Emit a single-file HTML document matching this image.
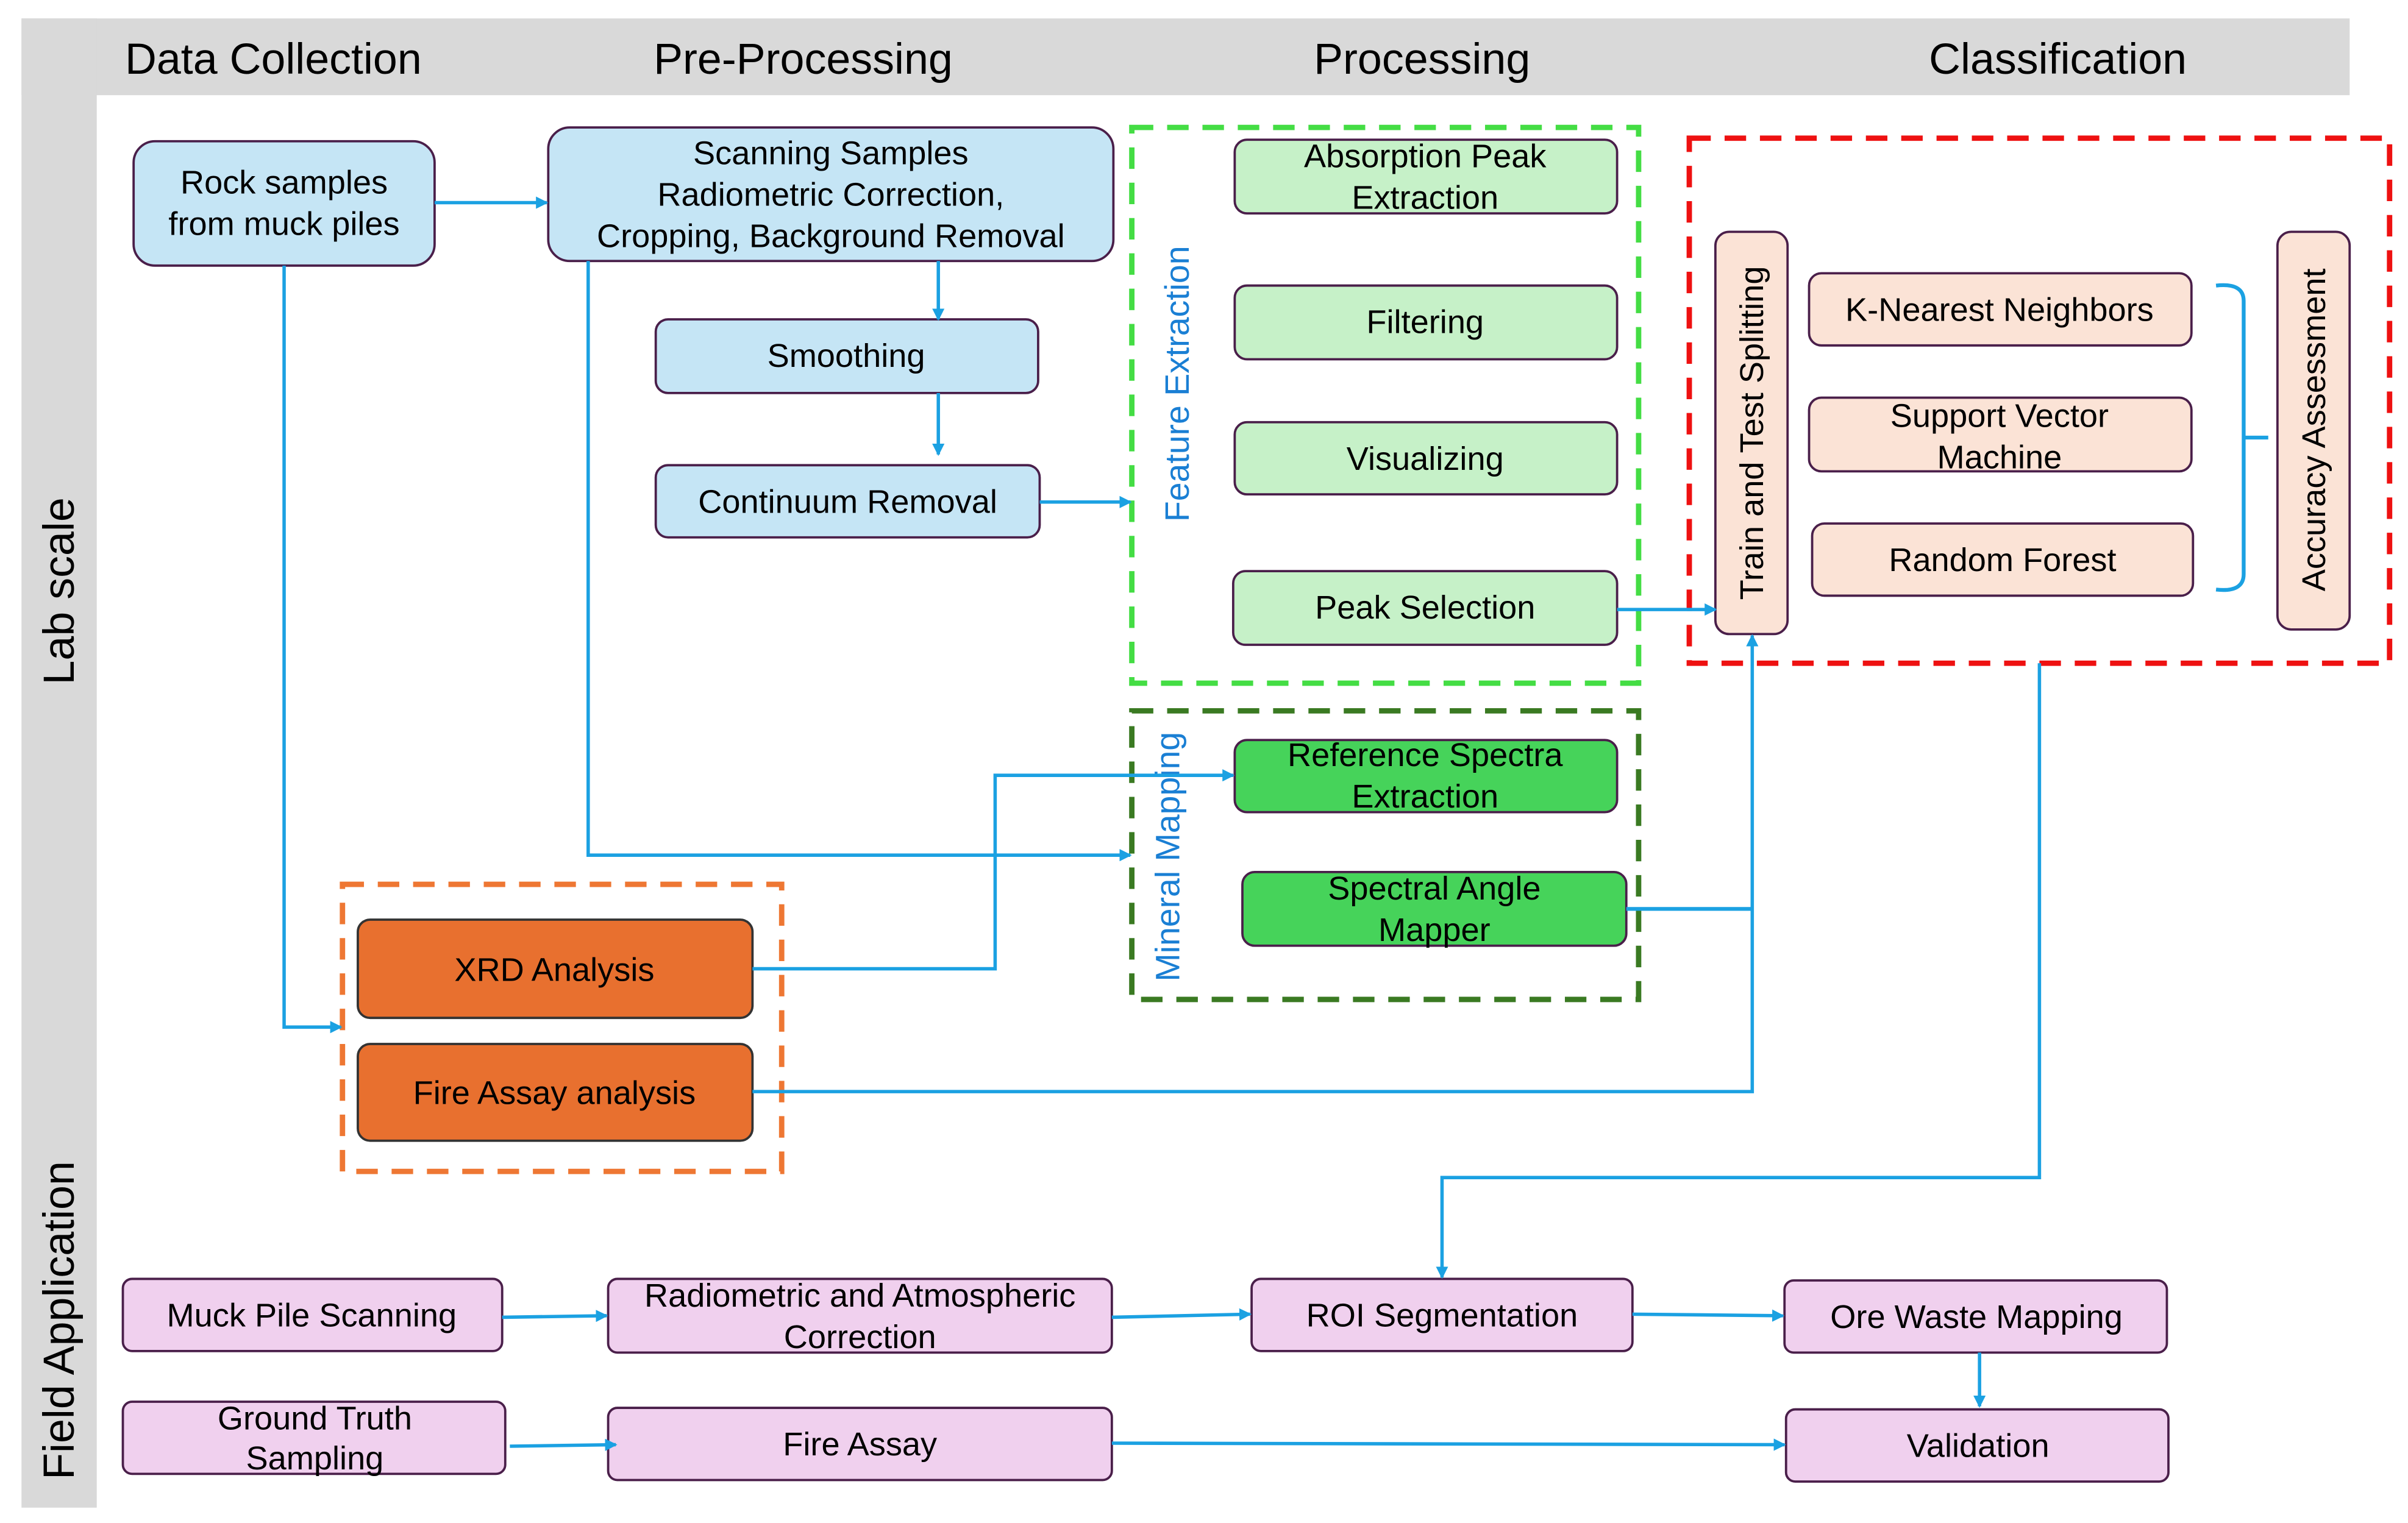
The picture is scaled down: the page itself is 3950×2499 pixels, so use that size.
<!DOCTYPE html>
<html><head><meta charset="utf-8"><style>html,body{margin:0;padding:0;background:#fff}svg{display:block}</style></head><body>
<svg xmlns="http://www.w3.org/2000/svg" width="3950" height="2499" viewBox="0 0 1568 992" font-family="Liberation Sans, Arial, sans-serif">
<defs>
<marker id="a" markerWidth="8" markerHeight="8" refX="7" refY="4" orient="auto" markerUnits="userSpaceOnUse"><path d="M0,0 L8,4 L0,8 Z" fill="#1ba1e2"/></marker>
</defs>
<rect width="1568" height="992" fill="#fff"/>
<rect x="14" y="12" width="1516" height="50" fill="#d9d9d9"/>
<rect x="14" y="12" width="49" height="970" fill="#d9d9d9"/>
<g font-size="28.5" fill="#000" text-anchor="middle">
<text x="178" y="48">Data Collection</text>
<text x="523" y="48">Pre-Processing</text>
<text x="926" y="48">Processing</text>
<text x="1340" y="48">Classification</text>
<text transform="translate(48,385) rotate(-90)">Lab scale</text>
<text transform="translate(48,860) rotate(-90)">Field Application</text>
</g>
<rect x="737" y="83" width="330" height="362" fill="none" stroke="#44dd44" stroke-width="3.5" stroke-dasharray="14,9"/>
<rect x="737" y="463" width="330" height="188" fill="none" stroke="#3a7a22" stroke-width="3.5" stroke-dasharray="14,9"/>
<rect x="1100" y="90" width="456" height="342" fill="none" stroke="#ee1111" stroke-width="3.5" stroke-dasharray="14,9"/>
<rect x="223" y="576" width="286" height="187" fill="none" stroke="#ee7733" stroke-width="3.5" stroke-dasharray="14,9"/>
<g stroke="#4a1f4a" stroke-width="1.5">
<rect x="87" y="92" width="196" height="81" rx="14" fill="#c5e5f5"/>
<rect x="357" y="83" width="368" height="87" rx="14" fill="#c5e5f5"/>
<rect x="427" y="208" width="249" height="48" rx="8" fill="#c5e5f5"/>
<rect x="427" y="303" width="250" height="47" rx="8" fill="#c5e5f5"/>
<rect x="804" y="91" width="249" height="48" rx="8" fill="#c6f1c8"/>
<rect x="804" y="186" width="249" height="48" rx="8" fill="#c6f1c8"/>
<rect x="804" y="275" width="249" height="47" rx="8" fill="#c6f1c8"/>
<rect x="803" y="372" width="250" height="48" rx="8" fill="#c6f1c8"/>
<rect x="804" y="482" width="249" height="47" rx="8" fill="#46d35a"/>
<rect x="809" y="568" width="250" height="48" rx="8" fill="#46d35a"/>
<rect x="1117" y="151" width="47" height="262" rx="9" fill="#fbe3d6"/>
<rect x="1178" y="178" width="249" height="47" rx="8" fill="#fbe3d6"/>
<rect x="1178" y="259" width="249" height="48" rx="8" fill="#fbe3d6"/>
<rect x="1180" y="341" width="248" height="47" rx="8" fill="#fbe3d6"/>
<rect x="1483" y="151" width="47" height="259" rx="9" fill="#fbe3d6"/>
<rect x="233" y="599" width="257" height="64" rx="8" fill="#e8702f" stroke="#333"/>
<rect x="233" y="680" width="257" height="63" rx="8" fill="#e8702f" stroke="#333"/>
<rect x="80" y="833" width="247" height="47" rx="6" fill="#f0d0ee"/>
<rect x="396" y="833" width="328" height="48" rx="6" fill="#f0d0ee"/>
<rect x="815" y="833" width="248" height="47" rx="6" fill="#f0d0ee"/>
<rect x="1162" y="834" width="249" height="47" rx="6" fill="#f0d0ee"/>
<rect x="80" y="913" width="249" height="47" rx="6" fill="#f0d0ee"/>
<rect x="396" y="917" width="328" height="47" rx="6" fill="#f0d0ee"/>
<rect x="1163" y="918" width="249" height="47" rx="6" fill="#f0d0ee"/>
</g>
<g font-size="21.5" fill="#000" text-anchor="middle">
<text x="185" y="126">Rock samples</text><text x="185" y="153">from muck piles</text>
<text x="541" y="107">Scanning Samples</text><text x="541" y="134">Radiometric Correction,</text><text x="541" y="161">Cropping, Background Removal</text>
<text x="551" y="239">Smoothing</text>
<text x="552" y="334">Continuum Removal</text>
<text x="928" y="109">Absorption Peak</text><text x="928" y="136">Extraction</text>
<text x="928" y="217">Filtering</text>
<text x="928" y="306">Visualizing</text>
<text x="928" y="403">Peak Selection</text>
<text x="928" y="499">Reference Spectra</text><text x="928" y="526">Extraction</text>
<text x="934" y="586">Spectral Angle</text><text x="934" y="613">Mapper</text>
<text x="1302" y="209">K-Nearest Neighbors</text>
<text x="1302" y="278">Support Vector</text><text x="1302" y="305">Machine</text>
<text x="1304" y="372">Random Forest</text>
<text transform="translate(1148,282) rotate(-90)">Train and Test Splitting</text>
<text transform="translate(1514,280) rotate(-90)">Accuracy Assessment</text>
<text x="361" y="639">XRD Analysis</text>
<text x="361" y="719">Fire Assay analysis</text>
<text x="203" y="864">Muck Pile Scanning</text>
<text x="560" y="851">Radiometric and Atmospheric</text><text x="560" y="878">Correction</text>
<text x="939" y="864">ROI Segmentation</text>
<text x="1287" y="865">Ore Waste Mapping</text>
<text x="205" y="931">Ground Truth</text><text x="205" y="957">Sampling</text>
<text x="560" y="948">Fire Assay</text>
<text x="1288" y="949">Validation</text>
</g>
<g font-size="22" fill="#1a7fd4" text-anchor="middle">
<text transform="translate(774,250) rotate(-90)">Feature Extraction</text>
<text transform="translate(768,558) rotate(-90)">Mineral Mapping</text>
</g>
<g fill="none" stroke="#1ba1e2" stroke-width="2.2" marker-end="url(#a)">
<path d="M283,132 H356"/>
<path d="M185,173 V669 H222"/>
<path d="M383,170 V557 H736"/>
<path d="M611,170 V208"/>
<path d="M611,256 V296"/>
<path d="M677,327 H736"/>
<path d="M490,631 H648 V505 H803"/>
<path d="M490,711 H1141 V414"/>
<path d="M1053,397 H1117"/>
<path d="M1328,432 V767 H939 V832"/>
<path d="M327,858 L395,857"/>
<path d="M724,858 L814,856"/>
<path d="M1063,856 L1161,857"/>
<path d="M1289,881 V916"/>
<path d="M332,942 L401,941"/>
<path d="M724,940 L1162,941"/>
</g>
<g fill="none" stroke="#1ba1e2" stroke-width="2.5">
<path d="M1059,592 H1141"/>
<path d="M1443,186 Q1461,184 1461,196 V374 Q1461,386 1443,384"/>
<path d="M1461,285 H1477"/>
</g>
</svg>
</body></html>
